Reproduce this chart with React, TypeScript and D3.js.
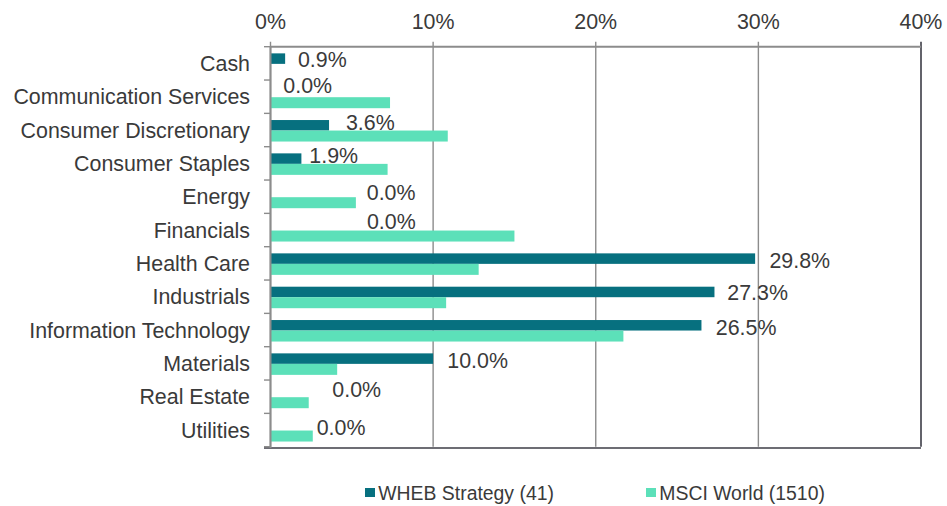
import React from "react";
import * as d3 from "d3";

const categories = [
  "Cash",
  "Communication Services",
  "Consumer Discretionary",
  "Consumer Staples",
  "Energy",
  "Financials",
  "Health Care",
  "Industrials",
  "Information Technology",
  "Materials",
  "Real Estate",
  "Utilities",
];
const whebValues = [0.9, 0, 3.6, 1.9, 0, 0, 29.8, 27.3, 26.5, 10.0, 0, 0];
const msciValues = [0, 7.35, 10.9, 7.2, 5.25, 15.0, 12.8, 10.8, 21.7, 4.1, 2.35, 2.6];
const seriesNames = ["WHEB Strategy (41)", "MSCI World (1510)"];
const xTicks = [0, 10, 20, 30, 40];
// data label anchor (left edge, in % units) and vertical nudge from band centre
const labelAtPct = [1.69, 0.79, 4.64, 2.39, 5.92, 5.93, 30.68, 28.09, 27.38, 10.87, 3.8, 2.84];
const labelNudge = [-4.3, -11.2, -8, -8.3, -4.7, -9, -2.6, -4.2, -3, -2.6, -7, -2.7];

const W = 947;
const H = 506;
const M = { left: 270.5, right: 921, top: 46.7, bottom: 446.7 };
const COL_WHEB = "#07707F";
const COL_MSCI = "#5CE0B9";
const TEXT = "#3a3a3a";
const FONT = "'Liberation Sans', Arial, sans-serif";
const FS = 21.4;

export default function App() {
  const x = d3.scaleLinear().domain([0, 40]).range([M.left, M.right]);
  const y = d3.scaleBand<string>().domain(categories).range([M.top, M.bottom]);
  const bw = y.bandwidth();
  const fmt = (v: number) => v.toFixed(1) + "%";

  return (
    <div style={{ position: "absolute", left: 0, top: 0 }}>
      <svg width={W} height={H} style={{ display: "block", background: "#fff" }} fontFamily={FONT}>
        {/* gridlines */}
        {xTicks.map((t) => (
          <line
            key={"g" + t}
            x1={x(t)}
            x2={x(t)}
            y1={M.top - 5}
            y2={M.bottom}
            stroke={t === 40 ? "#3c3c46" : "#8c8c8c"}
            strokeWidth={t === 40 ? 1.6 : 1.4}
          />
        ))}
        {/* bottom border */}
        <line x1={264} x2={x(40)} y1={M.bottom + 1.3} y2={M.bottom + 1.3} stroke="#3c3c46" strokeWidth={1.6} />
        {/* top axis */}
        <line x1={x(0)} x2={x(40)} y1={M.top} y2={M.top} stroke="#8c8c8c" strokeWidth={2} />
        {xTicks.map((t) => (
          <text key={"t" + t} x={x(t)} y={28.5} textAnchor="middle" fontSize={FS} fill={TEXT}>
            {t + "%"}
          </text>
        ))}
        {/* bars */}
        {categories.map((c, i) => {
          const yc = (y(c) as number) + bw / 2;
          return (
            <g key={c}>
              {whebValues[i] > 0 && (
                <rect x={x(0)} y={yc - 10} width={x(whebValues[i]) - x(0)} height={10.5} fill={COL_WHEB} />
              )}
              {msciValues[i] > 0 && (
                <rect x={x(0)} y={yc + 0.5} width={x(msciValues[i]) - x(0)} height={11} fill={COL_MSCI} />
              )}
              <text x={x(labelAtPct[i])} y={yc + labelNudge[i] + 7.6} fontSize={FS} fill={TEXT}>
                {fmt(whebValues[i])}
              </text>
              <text x={250} y={yc + 7.6} textAnchor="end" fontSize={FS} fill={TEXT}>
                {c}
              </text>
            </g>
          );
        })}
        {/* left axis */}
        <line x1={x(0)} x2={x(0)} y1={M.top} y2={M.bottom + 1.3} stroke="#8c8c8c" strokeWidth={2} />
        {categories.map((c, i) => (
          <line
            key={"lt" + i}
            x1={264}
            x2={x(0)}
            y1={(y(c) as number) + bw}
            y2={(y(c) as number) + bw}
            stroke="#8c8c8c"
            strokeWidth={1.4}
          />
        ))}
        <line x1={264} x2={x(0)} y1={M.top} y2={M.top} stroke="#8c8c8c" strokeWidth={1.4} />
        {/* legend */}
        {[COL_WHEB, COL_MSCI].map((col, i) => {
          const lx = i === 0 ? 365 : 646;
          return (
            <g key={"lg" + i}>
              <rect x={lx} y={488} width={10} height={9} fill={col} />
              <text x={lx + 13.3} y={499.5} fontSize={19.4} fill={TEXT}>
                {seriesNames[i]}
              </text>
            </g>
          );
        })}
      </svg>
    </div>
  );
}
